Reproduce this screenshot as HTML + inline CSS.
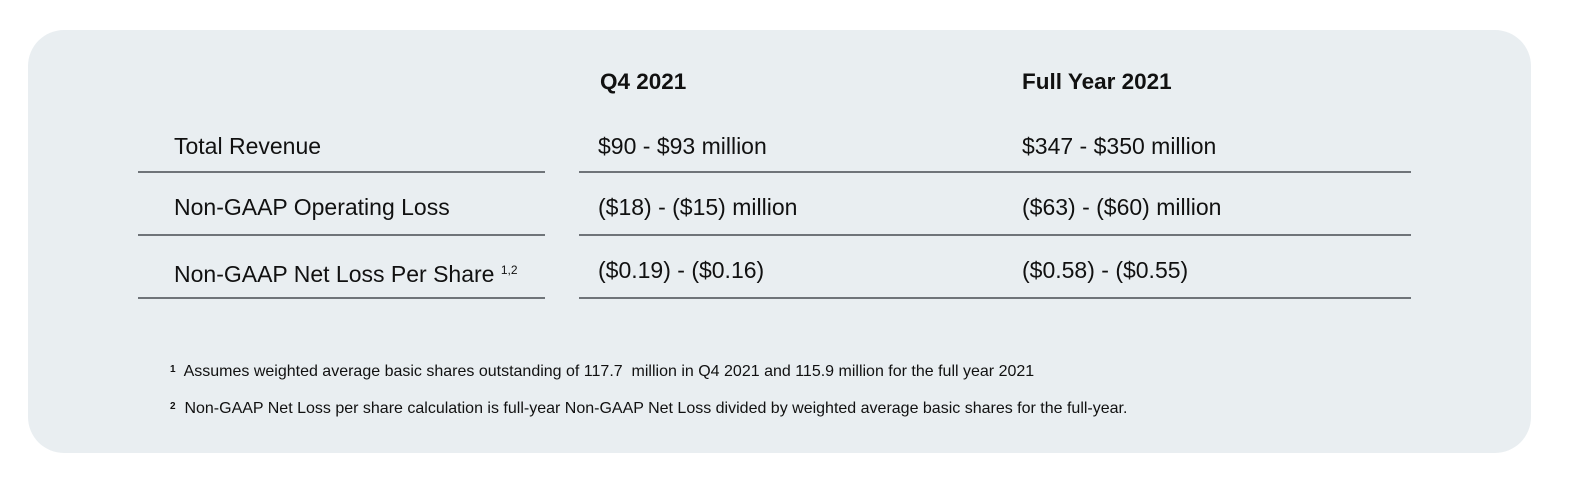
<!DOCTYPE html>
<html><head><meta charset="utf-8"><style>
body{margin:0;width:1587px;height:481px;background:#fff;font-family:"Liberation Sans",sans-serif;color:#111;position:relative;overflow:hidden}
.panel{position:absolute;left:28px;top:30px;width:1503px;height:423px;background:#e9eef1;border-radius:36px}
.t{position:absolute;white-space:nowrap;font-size:23px;line-height:26px}
.h{font-weight:bold;font-size:22.5px}
.line{position:absolute;height:2px;background:#6f7479}
.fn{position:absolute;white-space:nowrap;font-size:16px;line-height:18px;left:170px}
sup{font-size:12px;vertical-align:8px}
</style></head><body>
<div class="panel"></div>
<div class="t h" style="left:600px;top:69px">Q4 2021</div>
<div class="t h" style="left:1022px;top:69px">Full Year 2021</div>

<div class="t" style="left:174px;top:133px">Total Revenue</div>
<div class="t" style="left:598px;top:133px">$90 - $93 million</div>
<div class="t" style="left:1022px;top:133px">$347 - $350 million</div>
<div class="line" style="left:138px;top:171px;width:407px"></div>
<div class="line" style="left:579px;top:171px;width:832px"></div>

<div class="t" style="left:174px;top:194px">Non-GAAP Operating Loss</div>
<div class="t" style="left:598px;top:194px">($18) - ($15) million</div>
<div class="t" style="left:1022px;top:194px">($63) - ($60) million</div>
<div class="line" style="left:138px;top:234px;width:407px"></div>
<div class="line" style="left:579px;top:234px;width:832px"></div>

<div class="t" style="left:174px;top:257px">Non-GAAP Net Loss Per Share <sup>1,2</sup></div>
<div class="t" style="left:598px;top:257px">($0.19) - ($0.16)</div>
<div class="t" style="left:1022px;top:257px">($0.58) - ($0.55)</div>
<div class="line" style="left:138px;top:297px;width:407px"></div>
<div class="line" style="left:579px;top:297px;width:832px"></div>

<div class="fn" style="top:361px"><sup style="font-size:10px;vertical-align:4px;font-weight:bold">1</sup>&nbsp; Assumes weighted average basic shares outstanding of 117.7&nbsp; million in Q4 2021 and 115.9 million for the full year 2021</div>
<div class="fn" style="top:398px"><sup style="font-size:10px;vertical-align:4px;font-weight:bold">2</sup>&nbsp; Non-GAAP Net Loss per share calculation is full-year Non-GAAP Net Loss divided by weighted average basic shares for the full-year.</div>
</body></html>
